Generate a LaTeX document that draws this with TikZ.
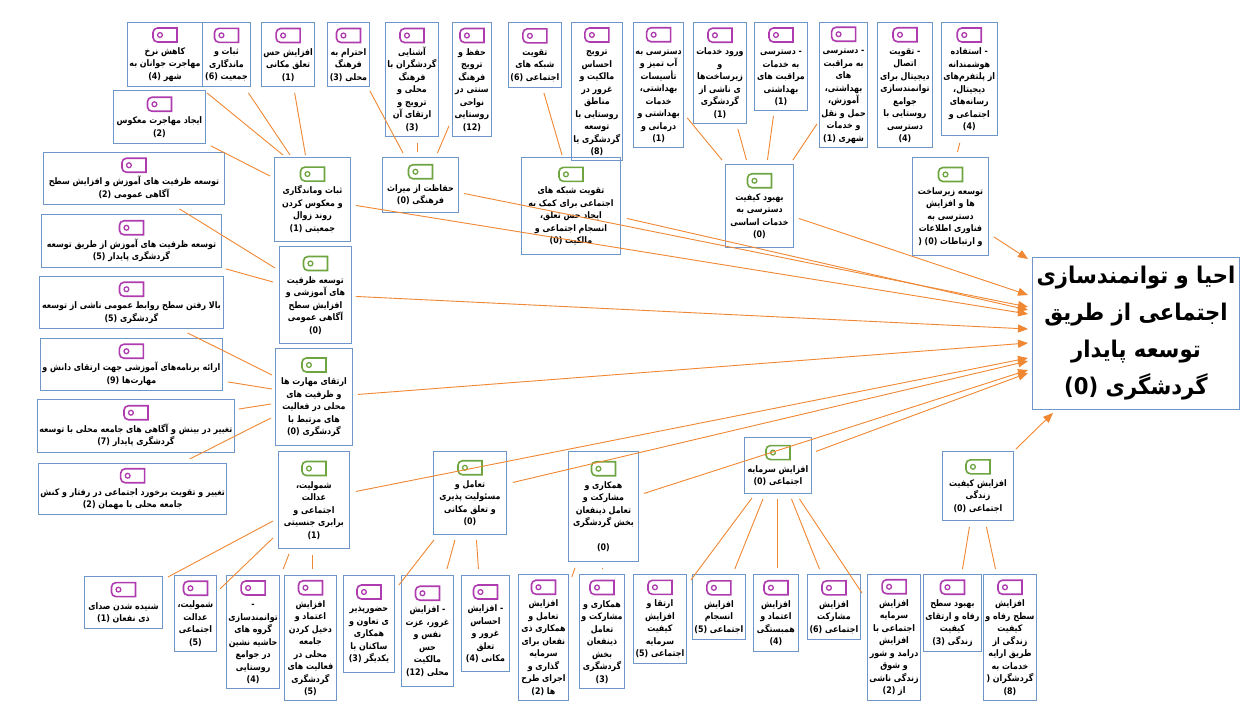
\documentclass[tikz,border=0pt]{standalone}
\usepackage{fontspec}
\usetikzlibrary{arrows.meta}
\TeXXeTstate=1
\newfontfamily\fa[Script=Arabic,FakeStretch=0.88]{DejaVu Sans}
\newfontfamily\famainfont[Script=Arabic,FakeStretch=0.92]{DejaVu Sans}
\definecolor{bxc}{RGB}{110,150,200}
\definecolor{orc}{RGB}{240,135,50}
\definecolor{puc}{RGB}{175,60,175}
\definecolor{grc}{RGB}{110,165,65}
\newcommand\pl[1]{\beginR#1\endR}
\newcommand\nb[1]{\beginL(#1)\endL}
\newcommand\tagi[1]{\tikz[baseline=0pt]{\draw[#1,line width=1.6pt] (24pt,0pt) -- (4.5pt,0pt) arc[start angle=270,end angle=180,radius=4.5pt] -- (0pt,9.5pt) arc[start angle=180,end angle=90,radius=4.5pt] -- (24pt,14pt) -- cycle; \draw[#1,line width=1.3pt] (7pt,7pt) circle (2.4pt);}}
\tikzset{
  bx/.style={draw=bxc, line width=0.9pt, inner sep=2pt, align=center, anchor=north west,
    font=\fa\bfseries\fontsize{9}{12.5}\selectfont},
  wh/.style 2 args={minimum width=#1pt, minimum height=#2pt},
  ln/.style={draw=orc, line width=0.9pt},
  ar/.style={ln, -{Triangle[length=10pt,width=8pt]}},
}
\begin{document}
\begin{tikzpicture}[x=1pt,y=-1pt]
\fill[white] (0,0) rectangle (1255,717);
\useasboundingbox (0,0) rectangle (1255,717);
% top row
\node[bx,wh={74}{64}] (kahesh) at (127,22) {\tagi{puc}\\ \pl{کاهش نرخ}\\ \pl{مهاجرت جوانان به}\\ \pl{شهر \nb{4}}};
\node[bx,wh={48}{64}] (sobatsix) at (202,22) {\tagi{puc}\\ \pl{ثبات و}\\ \pl{ماندگاری}\\ \pl{جمعیت \nb{6}}};
\node[bx,wh={51}{64}] (hes) at (261,22) {\tagi{puc}\\ \pl{افزایش حس}\\ \pl{تعلق مکانی}\\ \nb{1}};
\node[bx,wh={42}{64}] (ehteram) at (327,22) {\tagi{puc}\\ \pl{احترام به}\\ \pl{فرهنگ}\\ \pl{محلی \nb{3}}};
\node[bx,wh={51}{114}] (ashna) at (385,22) {\tagi{puc}\\ \pl{آشنایی}\\ \pl{گردشگران با}\\ \pl{فرهنگ}\\ \pl{محلی و}\\ \pl{ترویج و}\\ \pl{ارتقای آن}\\ \nb{3}};
\node[bx,wh={39}{114}] (hefz) at (452,22) {\tagi{puc}\\ \pl{حفظ و}\\ \pl{ترویج}\\ \pl{فرهنگ}\\ \pl{سنتی در}\\ \pl{نواحی}\\ \pl{روستایی}\\ \nb{12}};
\node[bx,wh={52}{65}] (taqsix) at (508,22) {\tagi{puc}\\ \pl{تقویت}\\ \pl{شبکه های}\\ \pl{اجتماعی \nb{6}}};
\node[bx,wh={49}{138}] (tarvij) at (571,22) {\tagi{puc}\\ \pl{ترویج}\\ \pl{احساس}\\ \pl{مالکیت و}\\ \pl{غرور در}\\ \pl{مناطق}\\ \pl{روستایی با}\\ \pl{توسعه}\\ \pl{گردشگری یا}\\ \nb{8}};
\node[bx,wh={49}{125}] (dab) at (633,22) {\tagi{puc}\\ \pl{دسترسی به}\\ \pl{آب تمیز و}\\ \pl{تأسیسات}\\ \pl{بهداشتی،}\\ \pl{خدمات}\\ \pl{بهداشتی و}\\ \pl{درمانی و}\\ \nb{1}};
\node[bx,wh={53}{101}] (vorud) at (693,22) {\tagi{puc}\\ \pl{ورود خدمات}\\ \pl{و}\\ \pl{زیرساخت‌ها}\\ \pl{ی ناشی از}\\ \pl{گردشگری}\\ \nb{1}};
\node[bx,wh={53}{88}] (dkh) at (754,22) {\tagi{puc}\\ \pl{- دسترسی}\\ \pl{به خدمات}\\ \pl{مراقبت های}\\ \pl{بهداشتی}\\ \nb{1}};
\node[bx,wh={48}{125}] (dmo) at (819,22) {\tagi{puc}\\ \pl{- دسترسی}\\ \pl{به مراقبت}\\ \pl{های}\\ \pl{بهداشتی،}\\ \pl{آموزش،}\\ \pl{حمل و نقل}\\ \pl{و خدمات}\\ \pl{شهری \nb{1}}};
\node[bx,wh={55}{125}] (ettesal) at (877,22) {\tagi{puc}\\ \pl{- تقویت}\\ \pl{اتصال}\\ \pl{دیجیتال برای}\\ \pl{توانمندسازی}\\ \pl{جوامع}\\ \pl{روستایی با}\\ \pl{دسترسی}\\ \nb{4}};
\node[bx,wh={53}{113}] (estef) at (941,22) {\tagi{puc}\\ \pl{- استفاده}\\ \pl{هوشمندانه}\\ \pl{از پلتفرم‌های}\\ \pl{دیجیتال،}\\ \pl{رسانه‌های}\\ \pl{اجتماعی و}\\ \nb{4}};
\node[bx,wh={92}{53}] (ijad) at (113,90) {\tagi{puc}\\ \pl{ایجاد مهاجرت معکوس}\\ \nb{2}};
% intermediate (green)
\node[bx,wh={76}{84}] (sobat) at (274,157) {\tagi{grc}\\ \pl{ثبات وماندگاری}\\ \pl{و معکوس کردن}\\ \pl{روند زوال}\\ \pl{جمعیتی \nb{1}}};
\node[bx,wh={76}{55}] (hefazat) at (382,157) {\tagi{grc}\\ \pl{حفاظت از میراث}\\ \pl{فرهنگی \nb{0}}};
\node[bx,wh={99}{97}] (shabake) at (521,157) {\tagi{grc}\\ \pl{تقویت شبکه های}\\ \pl{اجتماعی برای کمک به}\\ \pl{ایجاد حس تعلق،}\\ \pl{انسجام اجتماعی و}\\ \pl{مالکیت \nb{0}}};
\node[bx,wh={68}{83}] (behbud) at (725,164) {\tagi{grc}\\ \pl{بهبود کیفیت}\\ \pl{دسترسی به}\\ \pl{خدمات اساسی}\\ \nb{0}};
\node[bx,wh={76}{98}] (zirsakht) at (912,157) {\tagi{grc}\\ \pl{توسعه زیرساخت}\\ \pl{ها و افزایش}\\ \pl{دسترسی به}\\ \pl{فناوری اطلاعات}\\ \pl{و ارتباطات \beginL( (0)\endL}};
\node[bx,wh={72}{97}] (zarfiat) at (279,246) {\tagi{grc}\\ \pl{توسعه ظرفیت}\\ \pl{های آموزشی و}\\ \pl{افزایش سطح}\\ \pl{آگاهی عمومی}\\ \nb{0}};
\node[bx,wh={77}{97}] (mah) at (275,348) {\tagi{grc}\\ \pl{ارتقای مهارت ها}\\ \pl{و ظرفیت های}\\ \pl{محلی در فعالیت}\\ \pl{های مرتبط با}\\ \pl{گردشگری \nb{0}}};
\node[bx,wh={71}{97}] (shom) at (278,451) {\tagi{grc}\\ \pl{شمولیت،}\\ \pl{عدالت}\\ \pl{اجتماعی و}\\ \pl{برابری جنسیتی}\\ \nb{1}};
\node[bx,wh={73}{83}] (taam) at (433,451) {\tagi{grc}\\ \pl{تعامل و}\\ \pl{مسئولیت پذیری}\\ \pl{و تعلق مکانی}\\ \nb{0}};
\node[bx,wh={70}{110}] (hamk) at (568,451) {\tagi{grc}\\ \pl{همکاری و}\\ \pl{مشارکت و}\\ \pl{تعامل ذینفعان}\\ \pl{بخش گردشگری}\\ \strut\\ \nb{0}};
\node[bx,wh={67}{56}] (sarm) at (744,437) {\tagi{grc}\\ \pl{افزایش سرمایه}\\ \pl{اجتماعی \nb{0}}};
\node[bx,wh={71}{69}] (keyf) at (942,451) {\tagi{grc}\\ \pl{افزایش کیفیت}\\ \pl{زندگی}\\ \pl{اجتماعی \nb{0}}};
% left column
\node[bx,wh={181}{52}] (La) at (43,152) {\tagi{puc}\\ \pl{توسعه ظرفیت های آموزش و افزایش سطح}\\ \pl{آگاهی عمومی \nb{2}}};
\node[bx,wh={180}{53}] (Lb) at (41,214) {\tagi{puc}\\ \pl{توسعه ظرفیت های آموزش از طریق توسعه}\\ \pl{گردشگری پایدار \nb{5}}};
\node[bx,wh={184}{52}] (Lc) at (39,276) {\tagi{puc}\\ \pl{بالا رفتن سطح روابط عمومی ناشی از توسعه}\\ \pl{گردشگری \nb{5}}};
\node[bx,wh={176}{52}] (Ld) at (40,338) {\tagi{puc}\\ \pl{ارائه برنامه‌های آموزشی جهت ارتقای دانش و}\\ \pl{مهارت‌ها \nb{9}}};
\node[bx,wh={191}{53}] (Le) at (37,399) {\tagi{puc}\\ \pl{تغییر در بینش و آگاهی های جامعه محلی با توسعه}\\ \pl{گردشگری پایدار \nb{7}}};
\node[bx,wh={186}{51}] (Lf) at (38,463) {\tagi{puc}\\ \pl{تغییر و تقویت برخورد اجتماعی در رفتار و کنش}\\ \pl{جامعه محلی با مهمان \nb{2}}};
% bottom row
\node[bx,wh={78}{52}] (Ba) at (84,576) {\tagi{puc}\\ \pl{شنیده شدن صدای}\\ \pl{ذی نفعان \nb{1}}};
\node[bx,wh={42}{76}] (Bb) at (174,575) {\tagi{puc}\\ \pl{شمولیت،}\\ \pl{عدالت}\\ \pl{اجتماعی}\\ \nb{5}};
\node[bx,wh={53}{113}] (Bc) at (226,575) {\tagi{puc}\\ -\\ \pl{توانمندسازی}\\ \pl{گروه های}\\ \pl{حاشیه نشین}\\ \pl{در جوامع}\\ \pl{روستایی}\\ \nb{4}};
\node[bx,wh={52}{125}] (Bd) at (284,575) {\tagi{puc}\\ \pl{افزایش}\\ \pl{اعتماد و}\\ \pl{دخیل کردن}\\ \pl{جامعه}\\ \pl{محلی در}\\ \pl{فعالیت های}\\ \pl{گردشگری}\\ \nb{5}};
\node[bx,wh={51}{97}] (Be) at (343,575) {\tagi{puc}\\ \pl{حضورپذیر}\\ \pl{ی تعاون و}\\ \pl{همکاری}\\ \pl{ساکنان با}\\ \pl{یکدیگر \nb{3}}};
\node[bx,wh={52}{111}] (Bf) at (401,575) {\tagi{puc}\\ \pl{- افزایش}\\ \pl{غرور، عزت}\\ \pl{نفس و}\\ \pl{حس}\\ \pl{مالکیت}\\ \pl{محلی \nb{12}}};
\node[bx,wh={48}{96}] (Bg) at (461,575) {\tagi{puc}\\ \pl{- افزایش}\\ \pl{احساس}\\ \pl{غرور و}\\ \pl{تعلق}\\ \pl{مکانی \nb{4}}};
\node[bx,wh={50}{126}] (Bh) at (518,574) {\tagi{puc}\\ \pl{افزایش}\\ \pl{تعامل و}\\ \pl{همکاری ذی}\\ \pl{نفعان برای}\\ \pl{سرمایه}\\ \pl{گذاری و}\\ \pl{اجرای طرح}\\ \pl{ها \nb{2}}};
\node[bx,wh={45}{114}] (Bi) at (579,574) {\tagi{puc}\\ \pl{همکاری و}\\ \pl{مشارکت و}\\ \pl{تعامل}\\ \pl{ذینفعان}\\ \pl{بخش}\\ \pl{گردشگری}\\ \nb{3}};
\node[bx,wh={53}{89}] (Bj) at (633,574) {\tagi{puc}\\ \pl{ارتقا و}\\ \pl{افزایش}\\ \pl{کیفیت}\\ \pl{سرمایه}\\ \pl{اجتماعی \nb{5}}};
\node[bx,wh={52}{65}] (Bk) at (692,574) {\tagi{puc}\\ \pl{افزایش}\\ \pl{انسجام}\\ \pl{اجتماعی \nb{5}}};
\node[bx,wh={45}{77}] (Bl) at (753,574) {\tagi{puc}\\ \pl{افزایش}\\ \pl{اعتماد و}\\ \pl{همبستگی}\\ \nb{4}};
\node[bx,wh={53}{65}] (Bm) at (807,574) {\tagi{puc}\\ \pl{افزایش}\\ \pl{مشارکت}\\ \pl{اجتماعی \nb{6}}};
\node[bx,wh={51}{126}] (Bn) at (867,574) {\tagi{puc}\\ \pl{افزایش}\\ \pl{سرمایه}\\ \pl{اجتماعی با}\\ \pl{افزایش}\\ \pl{درامد و شور}\\ \pl{و شوق}\\ \pl{زندگی ناشی}\\ \pl{از \nb{2}}};
\node[bx,wh={54}{77}] (Bo) at (923,574) {\tagi{puc}\\ \pl{بهبود سطح}\\ \pl{رفاه و ارتقای}\\ \pl{کیفیت}\\ \pl{زندگی \nb{3}}};
\node[bx,wh={53}{126}] (Bp) at (983,574) {\tagi{puc}\\ \pl{افزایش}\\ \pl{سطح رفاه و}\\ \pl{کیفیت}\\ \pl{زندگی از}\\ \pl{طریق ارایه}\\ \pl{خدمات به}\\ \pl{گردشگران \beginL(\endL}\\ \nb{8}};
% main
\node[draw=bxc, line width=0.9pt, anchor=north west, minimum width=207pt, minimum height=152pt, align=center, inner sep=2pt,
  font=\famainfont\bfseries\fontsize{23}{37}\selectfont] (main) at (1032,257)
  {\pl{احیا و توانمندسازی}\\ \pl{اجتماعی از طریق}\\ \pl{توسعه پایدار}\\ \pl{گردشگری \nb{0}}};
% connectors leaves -> intermediate
\draw[ln] ([xshift=4pt,yshift=-6pt]kahesh.south east) -- ([xshift=9pt,yshift=2pt]sobat.north west);
\draw[ln] ([xshift=22pt,yshift=-6pt]sobatsix.south) -- ([xshift=16pt,yshift=2pt]sobat.north west);
\draw[ln] ([xshift=6.5pt,yshift=-6pt]hes.south) -- ([xshift=-7pt,yshift=2pt]sobat.north);
\draw[ln] ([xshift=5pt,yshift=-2pt]ijad.south east) -- ([xshift=-4pt,yshift=-19pt]sobat.north west);
\draw[ln] ([yshift=-4pt]ehteram.south east) -- ([xshift=21pt,yshift=4pt]hefazat.north west);
\draw[ln] ([xshift=5.5pt,yshift=-6pt]ashna.south) -- ([xshift=-3pt,yshift=5pt]hefazat.north);
\draw[ln] ([xshift=-3pt,yshift=11pt]hefz.south west) -- ([xshift=17pt,yshift=4pt]hefazat.north);
\draw[ln] ([xshift=9pt,yshift=-5pt]taqsix.south) -- ([xshift=41pt,yshift=2pt]shabake.north west);
\draw[ln] ([xshift=3pt,yshift=30pt]dab.south east) -- ([xshift=-3pt,yshift=4pt]behbud.north west);
\draw[ln] ([xshift=-9pt,yshift=-5pt]vorud.south east) -- ([xshift=-13pt,yshift=4pt]behbud.north);
\draw[ln] ([xshift=-7.5pt,yshift=-5pt]dkh.south) -- ([xshift=8pt,yshift=4pt]behbud.north);
\draw[ln] ([xshift=-2pt,yshift=24pt]dmo.south west) -- ([xshift=-1pt,yshift=4pt]behbud.north east);
\draw[ln] ([xshift=-9.5pt,yshift=-7pt]estef.south) -- ([xshift=7pt,yshift=5pt]zirsakht.north);
\draw[ln] ([xshift=45.5pt,yshift=-4pt]La.south) -- ([xshift=-4pt,yshift=-22pt]zarfiat.north west);
\draw[ln] ([xshift=4pt,yshift=-1pt]Lb.south east) -- ([xshift=-6pt,yshift=-36pt]zarfiat.north west);
\draw[ln] ([xshift=56pt,yshift=-4pt]Lc.south) -- ([xshift=-3pt,yshift=-27pt]mah.north west);
\draw[ln] ([xshift=5pt,yshift=9pt]Ld.south east) -- ([xshift=-3pt,yshift=-41pt]mah.north west);
\draw[ln] ([xshift=4pt,yshift=-10pt]Le.north east) -- ([xshift=-4pt,yshift=-56pt]mah.north west);
\draw[ln] ([xshift=57pt,yshift=4pt]Lf.north) -- ([xshift=-4pt,yshift=-70pt]mah.north west);
\draw[ln] ([xshift=5pt,yshift=-1pt]Ba.north east) -- ([xshift=-5pt,yshift=-70pt]shom.north west);
\draw[ln] ([xshift=3pt,yshift=-14pt]Bb.north east) -- ([xshift=-5pt,yshift=-87pt]shom.north west);
\draw[ln] ([xshift=3pt,yshift=6pt]Bc.north east) -- ([xshift=11pt,yshift=-5pt]shom.south west);
\draw[ln] ([xshift=2pt,yshift=6pt]Bd.north) -- ([xshift=-1.5pt,yshift=-6pt]shom.south);
\draw[ln] ([xshift=4pt,yshift=-10pt]Be.north east) -- ([xshift=1pt,yshift=-5pt]taam.south west);
\draw[ln] ([xshift=-7pt,yshift=6pt]Bf.north east) -- ([xshift=22pt,yshift=-5pt]taam.south west);
\draw[ln] ([xshift=-7pt,yshift=6pt]Bg.north) -- ([xshift=6.5pt,yshift=-5pt]taam.south);
\draw[ln] ([xshift=3pt,yshift=-3pt]Bh.north east) -- ([xshift=7pt,yshift=-6pt]hamk.south west);
\draw[ln] ([xshift=0.5pt,yshift=5pt]Bi.north) -- ([xshift=-1pt,yshift=-6pt]hamk.south);
\draw[ln] ([xshift=4pt,yshift=-6pt]Bj.north east) -- ([xshift=8pt,yshift=-4pt]sarm.south west);
\draw[ln] ([xshift=-11pt,yshift=5pt]Bk.north east) -- ([xshift=19pt,yshift=-5pt]sarm.south west);
\draw[ln] ([xshift=1.5pt,yshift=6pt]Bl.north) -- ([xshift=-0.5pt,yshift=-5pt]sarm.south);
\draw[ln] ([xshift=-14.5pt,yshift=5pt]Bm.north) -- ([xshift=13.5pt,yshift=-5pt]sarm.south);
\draw[ln] ([xshift=-5pt,yshift=-19pt]Bn.north west) -- ([xshift=21.5pt,yshift=-5pt]sarm.south);
\draw[ln] ([xshift=10pt,yshift=5pt]Bo.north) -- ([xshift=-8.5pt,yshift=-6pt]keyf.south);
\draw[ln] ([xshift=-14.5pt,yshift=5pt]Bp.north) -- ([xshift=8.5pt,yshift=-6pt]keyf.south);
% arrows to main
\draw[ar] ([xshift=5pt,yshift=19pt]zirsakht.south east) -- ([xshift=-4pt,yshift=-2pt]main.north west);
\draw[ar] ([xshift=5pt,yshift=-12.5pt]behbud.east) -- ([xshift=-4pt,yshift=-38pt]main.north west);
\draw[ar] ([xshift=5pt,yshift=-8.5pt]hefazat.east) -- ([xshift=-4pt,yshift=-50pt]main.north west);
\draw[ar] ([xshift=6pt,yshift=-12.5pt]shabake.east) -- ([xshift=-4pt,yshift=-53pt]main.north west);
\draw[ar] ([xshift=5pt,yshift=-6pt]sobat.east) -- ([xshift=-4pt,yshift=-57pt]main.north west);
\draw[ar] ([xshift=4pt,yshift=-1.5pt]zarfiat.east) -- ([xshift=-4pt,yshift=-72pt]main.north west);
\draw[ar] ([xshift=5pt,yshift=2.5pt]mah.east) -- ([xshift=-4pt,yshift=-86pt]main.north west);
\draw[ar] ([xshift=6pt,yshift=8.5pt]shom.east) -- ([xshift=-4pt,yshift=-101pt]main.north west);
\draw[ar] ([xshift=6pt,yshift=10.5pt]taam.east) -- ([xshift=-4pt,yshift=-104pt]main.north west);
\draw[ar] ([xshift=5pt,yshift=13pt]hamk.east) -- ([xshift=-4pt,yshift=-113pt]main.north west);
\draw[ar] ([xshift=4pt,yshift=14pt]sarm.east) -- ([xshift=-4pt,yshift=-116pt]main.north west);
\draw[ar] ([xshift=2pt,yshift=2pt]keyf.north east) -- ([xshift=21pt,yshift=-3pt]main.south west);
\end{tikzpicture}
\end{document}
